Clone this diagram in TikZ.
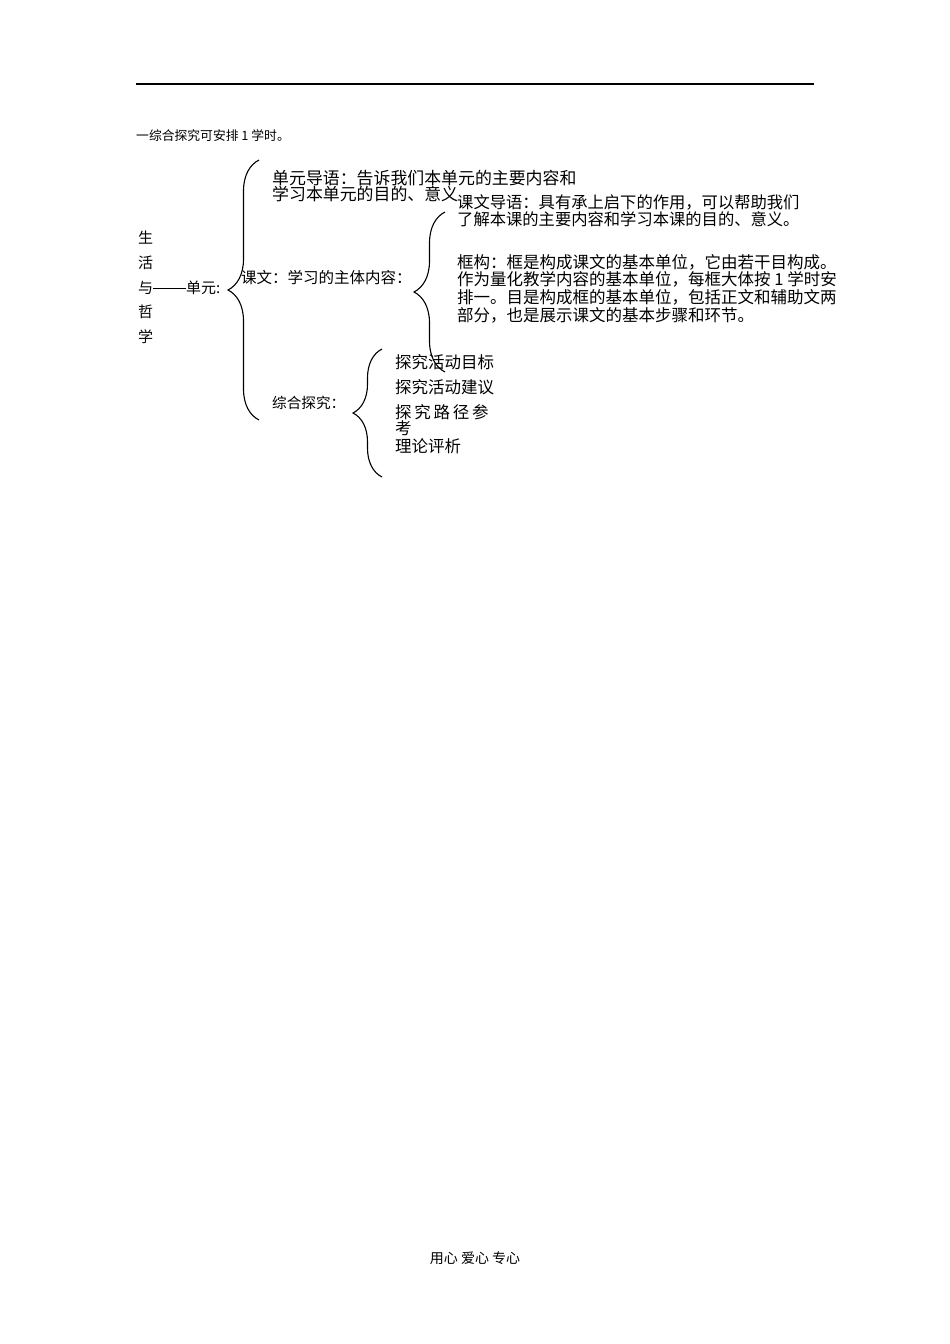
\documentclass[tikz,border=0pt]{standalone}
\usepackage{fontspec}
\usepackage{tikz}
\usetikzlibrary{decorations.pathreplacing}
\newfontfamily\zhfont{Noto Sans CJK SC}

\tikzset{
  zh/.style={inner sep=0pt, anchor=west, font=\zhfont\fontsize{#1}{#1}\selectfont},
  curly/.style={decorate, decoration={brace, amplitude=#1}, line width=1.1pt},
}

\begin{document}
\begin{tikzpicture}[x=1pt,y=-1pt]
  \useasboundingbox (0,0) rectangle (950,1344);
  \draw[line width=1.3pt] (136,84) coordinate (rl) -- (814,84) coordinate (rr);
  \path (136,136) node (intro) [zh=12.8] {一综合探究可安排 1 学时。};

  \path (138,238)
    node (sh) [zh=15] {生} ++(0,24.5)
    node (hu) [zh=15] {活} ++(0,25)
    node (yu) [zh=15] {与\rule[0.33em]{33pt}{0.6pt}单元:} ++(0,24.5)
    node (zhe) [zh=15] {哲} ++(0,24.5)
    node (xue) [zh=15] {学}
    ;

  \path (272,178)
    node (dy1) [zh=16.9] {单元导语：告诉我们本单元的主要内容和} ++(0,16)
    node (dy2) [zh=16.9] {学习本单元的目的、意义}
    ;
  \path (241,278) node (kw) [zh=15.5] {课文：学习的主体内容：};
  \path (272,403) node (zt) [zh=14.6] {综合探究：};

  \path (457,202)
    node (kd1) [zh=16.3] {课文导语：具有承上启下的作用，可以帮助我们} ++(0,17)
    node (kd2) [zh=16.3] {了解本课的主要内容和学习本课的目的、意义。}
    ;
  \path (457,262)
    node (kg1) [zh=16.5] {框构：框是构成课文的基本单位，它由若干目构成。} ++(0,17.5)
    node (kg2) [zh=16.5] {作为量化教学内容的基本单位，每框大体按 1 学时安} ++(0,18)
    node (kg3) [zh=16.5] {排一。目是构成框的基本单位，包括正文和辅助文两} ++(0,18)
    node (kg4) [zh=16.5] {部分，也是展示课文的基本步骤和环节。}
    ;

  \path (395,362)
    node (ta1) [zh=16.5] {探究活动目标} ++(0,25)
    node (ta2) [zh=16.5] {探究活动建议} ++(0,25)
    node (ta3) [zh=16.5] {探\,究\,路\,径\,参} ++(0,16)
    node (ta4) [zh=16.5] {考} ++(0,18)
    node (ta5) [zh=16.5] {理论评析}
    ;

  \path (475,1258) node (foot) [zh=14, anchor=center] {用心 爱心 专心};

  % braces
  \coordinate (b1s) at (259,420);
  \coordinate (b1e) at (259,160);
  \draw[curly=31] (b1s) -- (b1e);
  \coordinate (b2s) at (445,372);
  \coordinate (b2e) at (445,212);
  \draw[curly=31] (b2s) -- (b2e);
  \coordinate (b3s) at (382,477);
  \coordinate (b3e) at (382,349);
  \draw[curly=29] (b3s) -- (b3e);
\end{tikzpicture}
\end{document}
